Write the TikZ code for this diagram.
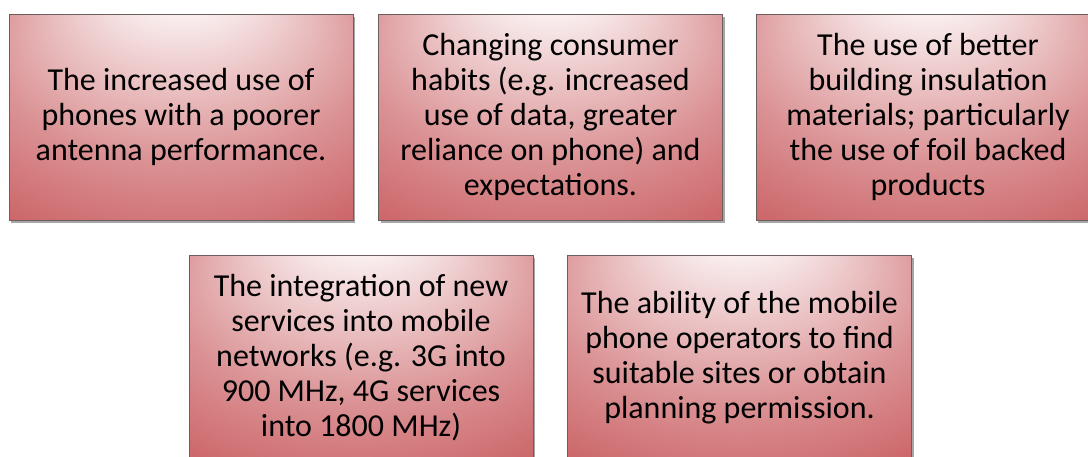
\documentclass[tikz,border=0pt]{standalone}
\usepackage{fontspec}
\setmainfont{Carlito}
\usetikzlibrary{shadows}

\definecolor{causered}{RGB}{194,72,76}
\definecolor{causeline}{RGB}{105,95,95}

% white glow near the top edge, deepening to red at the sides
\pgfdeclareradialshading{causeglow}{\pgfpoint{0bp}{38bp}}{%
  color(0bp)=(white);
  color(5bp)=(white!97!causered);
  color(28bp)=(causered!60!white);
  color(47bp)=(causered!96!white);
  color(50bp)=(causered)}

\begin{document}
\begin{tikzpicture}[x=1pt, y=-1pt,
    cause/.style={draw=causeline, line width=0.7pt, shading=causeglow,
      minimum width=344pt, minimum height=206pt, align=center,
      inner sep=0pt, font=\fontsize{32}{35}\selectfont,
      drop shadow={shadow xshift=2pt, shadow yshift=-3pt,
        fill=black, opacity=0.35}}]

  \useasboundingbox (0,0) rectangle (1088,456);

  % top row
  \node[cause] (phones) at (181,117)
    {The increased use of\\phones with a poorer\\antenna performance.};
  \node[cause] (habits) at (550.5,117)
    {Changing consumer\\habits (e.g. increased\\use of data, greater\\reliance on phone) and\\expectations.};
  \node[cause] (insulation) at (928,117)
    {The use of better\\building insulation\\materials; particularly\\the use of foil backed\\products};

  % bottom row
  \node[cause] (services) at (361,358)
    {The integration of new\\services into mobile\\networks (e.g. 3G into\\900 MHz, 4G services\\into 1800 MHz)};
  \node[cause] (sites) at (739.5,358)
    {The ability of the mobile\\phone operators to find\\suitable sites or obtain\\planning permission.};

\end{tikzpicture}
\end{document}
